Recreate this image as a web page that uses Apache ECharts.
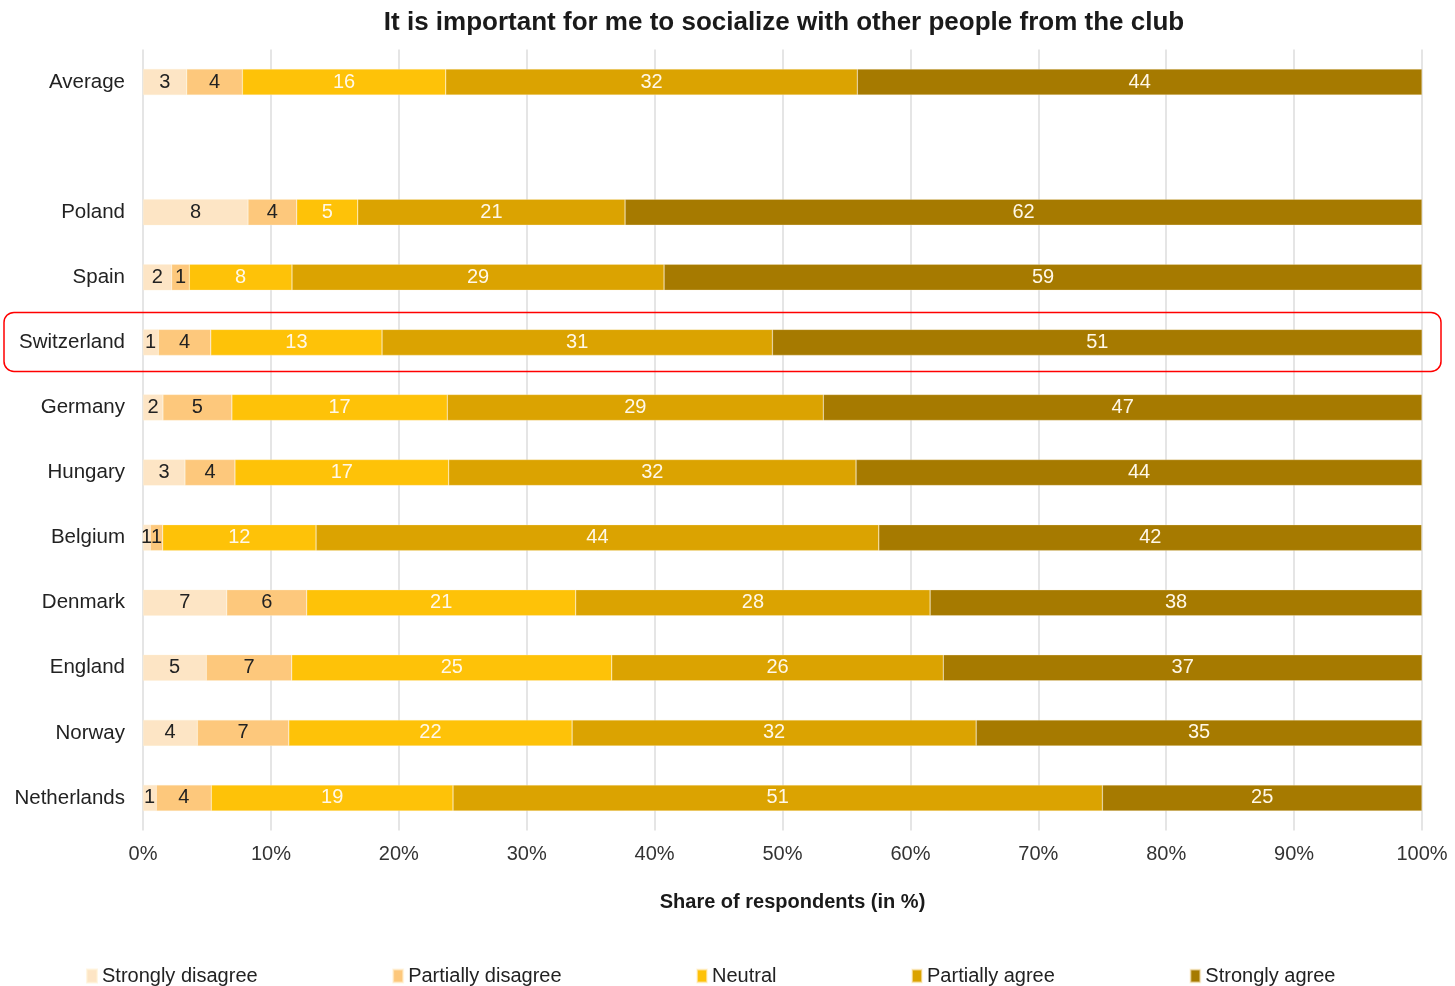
<!DOCTYPE html>
<html>
<head>
<meta charset="utf-8">
<script src="https://cdn.jsdelivr.net/npm/echarts@6/dist/echarts.min.js"></script>
<style>
html,body{margin:0;padding:0;background:#fff;}
#chart{width:1455px;height:986px;}
</style>
</head>
<body>
<div id="chart"></div>
<script>
// Categories (top to bottom); '' is the blank spacer row
const categories = ['Average', '', 'Poland', 'Spain', 'Switzerland', 'Germany', 'Hungary', 'Belgium', 'Denmark', 'England', 'Norway', 'Netherlands'];
const seriesNames = ['Strongly disagree', 'Partially disagree', 'Neutral', 'Partially agree', 'Strongly agree'];
const stronglyDisagree = [3.42, null, 8.21, 2.24, 1.20, 1.56, 3.28, 0.57, 6.55, 4.95, 4.25, 1.04];
const partiallyDisagree = [4.35, null, 3.81, 1.38, 4.10, 5.39, 3.91, 0.97, 6.25, 6.68, 7.15, 4.30];
const neutral = [15.90, null, 4.77, 8.03, 13.39, 16.84, 16.71, 11.99, 21.03, 25.02, 22.15, 18.90];
const partiallyAgree = [32.18, null, 20.90, 29.09, 30.52, 29.40, 31.85, 44.00, 27.71, 25.92, 31.59, 50.77];
const stronglyAgree = [44.15, null, 62.31, 59.26, 50.80, 46.81, 44.25, 42.45, 38.46, 37.44, 34.86, 24.99];
const xTicks = [0, 10, 20, 30, 40, 50, 60, 70, 80, 90, 100];
const highlightCategory = 'Switzerland';

const colors = ['#FDE5C5', '#FDC87C', '#FEC208', '#DBA301', '#A67A00'];
const labelColors = ['#222222', '#222222', '#FFF8E8', '#FFF8E8', '#FFF8E8'];
const dataSets = [stronglyDisagree, partiallyDisagree, neutral, partiallyAgree, stronglyAgree];
const FONT = '"Liberation Sans", Arial, sans-serif';

const chart = echarts.init(document.getElementById('chart'));
const option = {
  animation: false,
  backgroundColor: '#ffffff',
  title: {
    text: 'It is important for me to socialize with other people from the club',
    left: 779, textAlign: 'center', top: 5,
    textStyle: { fontFamily: FONT, fontSize: 26, fontWeight: 'bold', color: '#1a1a1a' }
  },
  grid: { left: 143, right: 33, top: 49.5, bottom: 986 - 830.5, containLabel: false },
  legend: {
    data: seriesNames,
    left: 81, top: 961,
    itemGap: 134.5, itemWidth: 10, itemHeight: 13, icon: 'rect',
    textStyle: { fontFamily: FONT, fontSize: 20, color: '#222' }
  },
  xAxis: {
    type: 'value', min: 0, max: 100, interval: 10,
    name: 'Share of respondents (in %)',
    nameLocation: 'middle', nameGap: 62,
    nameTextStyle: { fontFamily: FONT, fontSize: 20, fontWeight: 'bold', color: '#1a1a1a', padding: [0, 0, 0, 20] },
    axisLine: { show: false }, axisTick: { show: false },
    axisLabel: { formatter: v => xTicks.includes(v) ? v + '%' : '', fontFamily: FONT, fontSize: 20, color: '#333', margin: 14 },
    splitLine: { show: true, lineStyle: { color: '#E5E5E5', width: 2 } }
  },
  yAxis: {
    type: 'category', data: categories, inverse: true,
    axisLine: { show: false }, axisTick: { show: false },
    axisLabel: { fontFamily: FONT, fontSize: 20.5, color: '#222', margin: 18 }
  },
  series: seriesNames.map((name, i) => ({
    name, type: 'bar', stack: 'total', barWidth: 26,
    data: dataSets[i],
    itemStyle: { color: colors[i], borderColor: 'rgba(255,240,210,0.6)', borderWidth: 0.5 },
    label: {
      show: true, position: 'inside',
      formatter: p => (p.value == null ? '' : Math.round(p.value)),
      fontFamily: FONT, fontSize: 20, color: labelColors[i]
    }
  }))
};
chart.setOption(option);

// red rounded highlight around the Switzerland row (positioned from the axis scale)
const yc = chart.convertToPixel({ yAxisIndex: 0 }, highlightCategory);
chart.setOption({
  graphic: [{
    type: 'rect', z: 100, silent: true,
    shape: { x: 4, y: yc - 30, width: 1437, height: 59, r: 10 },
    style: { fill: 'none', stroke: '#FF0000', lineWidth: 1.5 }
  }]
});
</script>
</body>
</html>
